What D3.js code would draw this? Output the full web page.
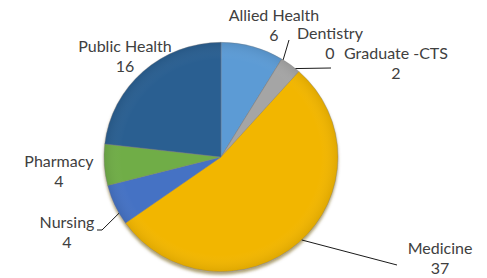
<!DOCTYPE html>
<html><head><meta charset="utf-8">
<script src="https://cdn.jsdelivr.net/npm/d3@7"></script>
<style>html,body{margin:0;padding:0;background:#fff;}svg{display:block;}</style>
</head><body>
<svg id="chart" width="487" height="278"></svg>
<script>
const categories = ["Allied Health","Dentistry","Graduate -CTS","Medicine","Nursing","Pharmacy","Public Health"];
const values = [6,0,2,37,4,4,16];
const colors = ["#5B9BD5","#C0C0C0","#A5A5A5","#F2B600","#4472C4","#70AD47","#2C5F91"];

const svg = d3.select("#chart");
const cx = 221, cy = 157, r = 117;
const defs = svg.append("defs");
const f = defs.append("filter").attr("id","sh").attr("x","-20%").attr("y","-20%").attr("width","140%").attr("height","140%");
f.append("feDropShadow").attr("dx",0).attr("dy",3).attr("stdDeviation",1.5).attr("flood-color","#6b5200").attr("flood-opacity",0.55);
const rg = defs.append("radialGradient").attr("id","shade").attr("cx","50%").attr("cy","50%").attr("r","50%");
rg.append("stop").attr("offset","0%").attr("stop-color","#fff").attr("stop-opacity",0.0);
rg.append("stop").attr("offset","85%").attr("stop-color","#fff").attr("stop-opacity",0.0);
rg.append("stop").attr("offset","100%").attr("stop-color","#000").attr("stop-opacity",0.08);

const pie = d3.pie().sort(null).value(d => d)(values);
const arc = d3.arc().innerRadius(0).outerRadius(r);
const g = svg.append("g").attr("transform",`translate(${cx},${cy}) scale(1,0.98)`);
const gp = g.append("g").attr("filter","url(#sh)");
gp.selectAll("path.s").data(pie).join("path").attr("class","s")
  .attr("d", arc).attr("fill",(d,i)=>colors[i])
  .attr("stroke","#7f7f7f").attr("stroke-opacity",0.45).attr("stroke-width",0.8);
g.append("circle").attr("r",r).attr("fill","url(#shade)");

// label layout (positions of text), leader from pie edge at given angle
const layout = {
  "Allied Health": {x:274, y:21, leader:{a:0.56, p:[[289,40]]}},
  "Dentistry": {x:330, y:39, leader:null},
  "Graduate -CTS": {x:396, y:59, leader:{a:0.69, p:[[331,68]]}},
  "Medicine": {x:440, y:254, leader:{a:2.38, p:[[397,265]]}},
  "Nursing": {x:67, y:228, leader:{a:4.20, p:[[102,230],[97,230]]}},
  "Pharmacy": {x:59, y:167, leader:null},
  "Public Health": {x:125, y:52, leader:null}
};
const lab = svg.append("g").attr("font-family","Lato, 'Open Sans', sans-serif").attr("font-size",16).attr("fill","#404040").attr("text-anchor","middle");
categories.forEach((c,i) => {
  const L = layout[c];
  const t = lab.append("text").attr("x",L.x).attr("y",L.y);
  t.append("tspan").attr("x",L.x).text(c);
  t.append("tspan").attr("x",L.x).attr("dy",20).text(values[i]);
  if (L.leader) {
    const a = L.leader.a;
    const sx = cx + r*Math.sin(a), sy = cy - r*0.98*Math.cos(a);
    const pts = [[sx,sy]].concat(L.leader.p);
    svg.append("path").attr("d", d3.line()(pts)).attr("fill","none").attr("stroke","#000").attr("stroke-width",0.9);
  }
});
</script>
</body></html>
